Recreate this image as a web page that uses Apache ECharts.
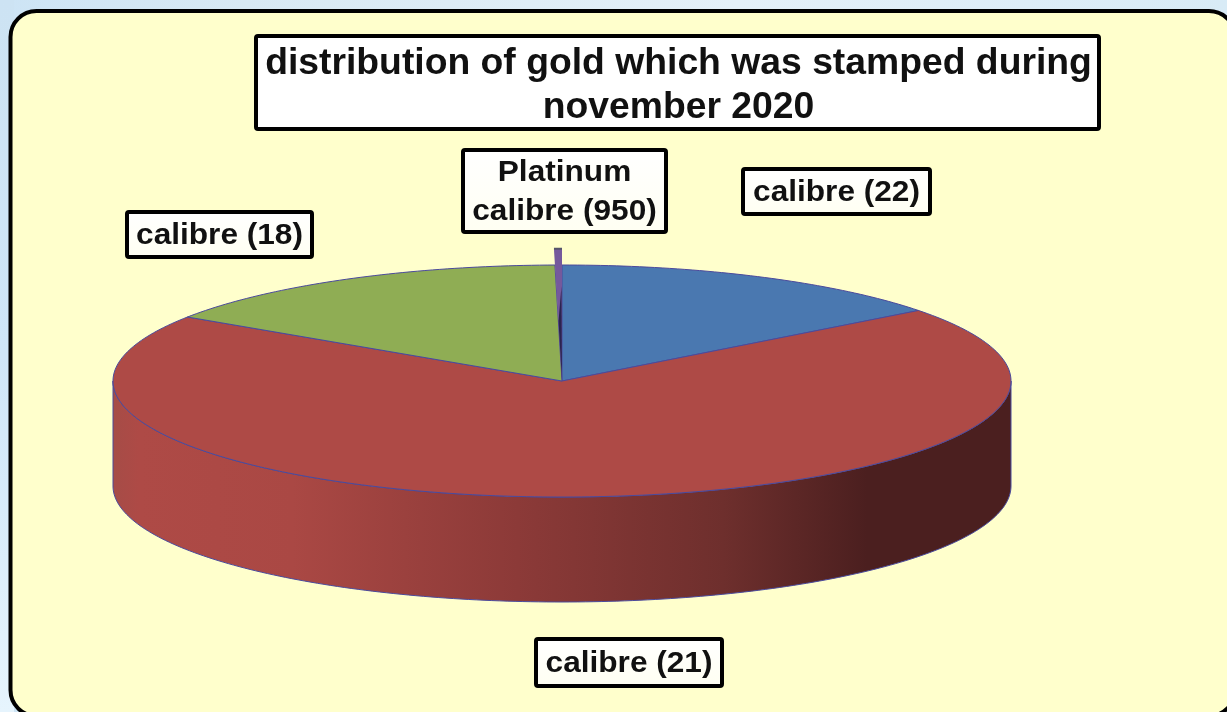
<!DOCTYPE html>
<html>
<head>
<meta charset="utf-8">
<style>
html, body { margin: 0; padding: 0; background: #dcecf7; }
#main { width: 1227px; height: 712px; }
</style>
<script src="https://cdn.jsdelivr.net/npm/echarts@6/dist/echarts.min.js"></script>
</head>
<body>
<div id="main"></div>
<script>
// 图表数据
var titleText = 'distribution of gold which was stamped during\nnovember 2020';
var categories = ['calibre (22)', 'calibre (21)', 'calibre (18)', 'Platinum\ncalibre (950)'];
var shares = [14.6, 69.7, 15.45, 0.25];

var sliceColors = ['#4a78b0', '#ae4a46', '#8fad54', '#75599c'];
var fontFamily = '"Liberation Sans", Arial, sans-serif';

// 饼的几何参数（椭圆）
var pie = { cx: 562, cy: 381, rx: 449, ry: 116, depth: 105, explode: 1.14 };
var edgeColor = '#4b4a9c';

// 标签框，顺序同 categories
var labelBoxes = [
    { x: 743, y: 169, w: 187, h: 45 },
    { x: 536, y: 639, w: 186, h: 47 },
    { x: 127, y: 212, w: 185, h: 45 },
    { x: 463, y: 150, w: 203, h: 82 }
];

// 扇区起止角，从正上方顺时针
var sliceRows = [];
var total = shares.reduce(function (a, b) { return a + b; }, 0);
var acc = 0;
shares.forEach(function (v, i) {
    sliceRows.push([acc / total * 360, (acc + v) / total * 360, i]);
    acc += v;
});

function rimPoint(deg, scale, dy) {
    var a = deg * Math.PI / 180;
    return [
        pie.cx + Math.sin(a) * pie.rx * scale,
        pie.cy - Math.cos(a) * pie.ry * scale + (dy || 0)
    ];
}

function arcPoints(from, to, scale, dy) {
    var pts = [];
    var n = Math.max(2, Math.ceil(Math.abs(to - from)));
    for (var i = 0; i <= n; i++) {
        pts.push(rimPoint(from + (to - from) * i / n, scale, dy));
    }
    return pts;
}

function renderSlice(params, api) {
    var start = api.value(0), end = api.value(1), idx = api.value(2);
    var children = [];
    var scale = idx === 3 ? pie.explode : 1;

    // 只有正面 90-270 度有侧壁
    var wallFrom = Math.max(start, 90), wallTo = Math.min(end, 270);
    if (wallTo > wallFrom) {
        var front = arcPoints(wallFrom, wallTo, 1, 0);
        var back = arcPoints(wallTo, wallFrom, 1, pie.depth);
        children.push({
            type: 'polygon',
            shape: { points: front.concat(back) },
            style: {
                fill: new echarts.graphic.LinearGradient(113, 0, 1011, 0, [
                    { offset: 0, color: '#a64c47' },
                    { offset: 0.03, color: '#ae4a46' },
                    { offset: 0.2, color: '#aa4844' },
                    { offset: 0.45, color: '#8c3a38' },
                    { offset: 0.68, color: '#6e2f2d' },
                    { offset: 0.84, color: '#4b1f1f' },
                    { offset: 1, color: '#4b1f1f' }
                ], true),
                stroke: edgeColor,
                lineWidth: 1
            }
        });
    }
    var top = [[pie.cx, pie.cy]].concat(arcPoints(start, end, scale, 0));
    children.push({
        type: 'polygon',
        shape: { points: top },
        style: { fill: sliceColors[idx], stroke: idx === 3 ? null : edgeColor, lineWidth: 1 }
    });
    if (idx === 3) { // 铂金切片的暗面和顶边
        var tipA = rimPoint(start, scale, 0);
        var tipB = rimPoint(end, scale, 0);
        children.push({
            type: 'polygon',
            shape: { points: [[pie.cx, pie.cy], [tipB[0] - 0.5, pie.cy - 95], [tipB[0] - 3.5, pie.cy - 60]] },
            style: { fill: '#2a2350' }
        });
        children.push({
            type: 'line',
            shape: { x1: tipA[0], y1: tipA[1], x2: tipB[0], y2: tipB[1] },
            style: { stroke: '#55556a', lineWidth: 2 }
        });
    }
    return { type: 'group', children: children };
}

function renderLabel(params, api) {
    var i = api.value(0);
    var b = labelBoxes[i];
    return {
        type: 'group',
        children: [{
            type: 'rect',
            shape: { x: b.x, y: b.y, width: b.w, height: b.h, r: 2 },
            style: {
                fill: new echarts.graphic.LinearGradient(0, 0, 0, 1, [
                    { offset: 0, color: '#ffffff' },
                    { offset: 1, color: '#fffff2' }
                ]),
                stroke: '#000',
                lineWidth: 4
            }
        }, {
            type: 'text',
            x: b.x + b.w / 2,
            y: b.y + b.h / 2 + 1,
            scaleX: 1.09,
            style: {
                text: categories[i],
                fill: '#111',
                font: 'bold 29px ' + fontFamily,
                lineHeight: 39,
                align: 'center',
                verticalAlign: 'middle'
            }
        }]
    };
}

var option = {
    animation: false,
    backgroundColor: new echarts.graphic.LinearGradient(0, 0, 1, 0, [
        { offset: 0, color: '#cde4f5' },
        { offset: 0.2, color: '#d8e9f3' },
        { offset: 0.6, color: '#e4f0f8' },
        { offset: 1, color: '#d8ebf6' }
    ]),
    title: {
        text: titleText,
        left: 678.5,
        top: 42,
        padding: 0,
        textAlign: 'center',
        textStyle: {
            color: '#111',
            fontFamily: fontFamily,
            fontWeight: 'bold',
            fontSize: 37.3,
            lineHeight: 44
        }
    },
    graphic: {
        elements: [{
            type: 'rect',
            z: -3,
            shape: { x: 0, y: 0, width: 14, height: 712 },
            style: {
                fill: new echarts.graphic.LinearGradient(0, 0, 0, 1, [
                    { offset: 0, color: '#cde3f3' },
                    { offset: 0.5, color: '#cfe6f8' },
                    { offset: 1, color: '#e6f4fd' }
                ])
            }
        }, {
            type: 'rect',
            z: -2,
            shape: { x: 10.5, y: 11, width: 1224.5, height: 705, r: 26 },
            style: { fill: '#ffffcc', stroke: '#000', lineWidth: 4 }
        }, {
            type: 'rect',
            z: -1,
            shape: { x: 256, y: 36, width: 843, height: 93, r: 2 },
            style: { fill: '#fff', stroke: '#000', lineWidth: 4 }
        }]
    },
    series: [
        {
            type: 'custom',
            coordinateSystem: 'none',
            silent: true,
            renderItem: renderSlice,
            data: sliceRows
        },
        {
            type: 'custom',
            coordinateSystem: 'none',
            silent: true,
            z: 5,
            renderItem: renderLabel,
            data: categories.map(function (c, i) { return [i]; })
        }
    ]
};

var myChart = echarts.init(document.getElementById('main'));
myChart.setOption(option);
</script>
</body>
</html>
